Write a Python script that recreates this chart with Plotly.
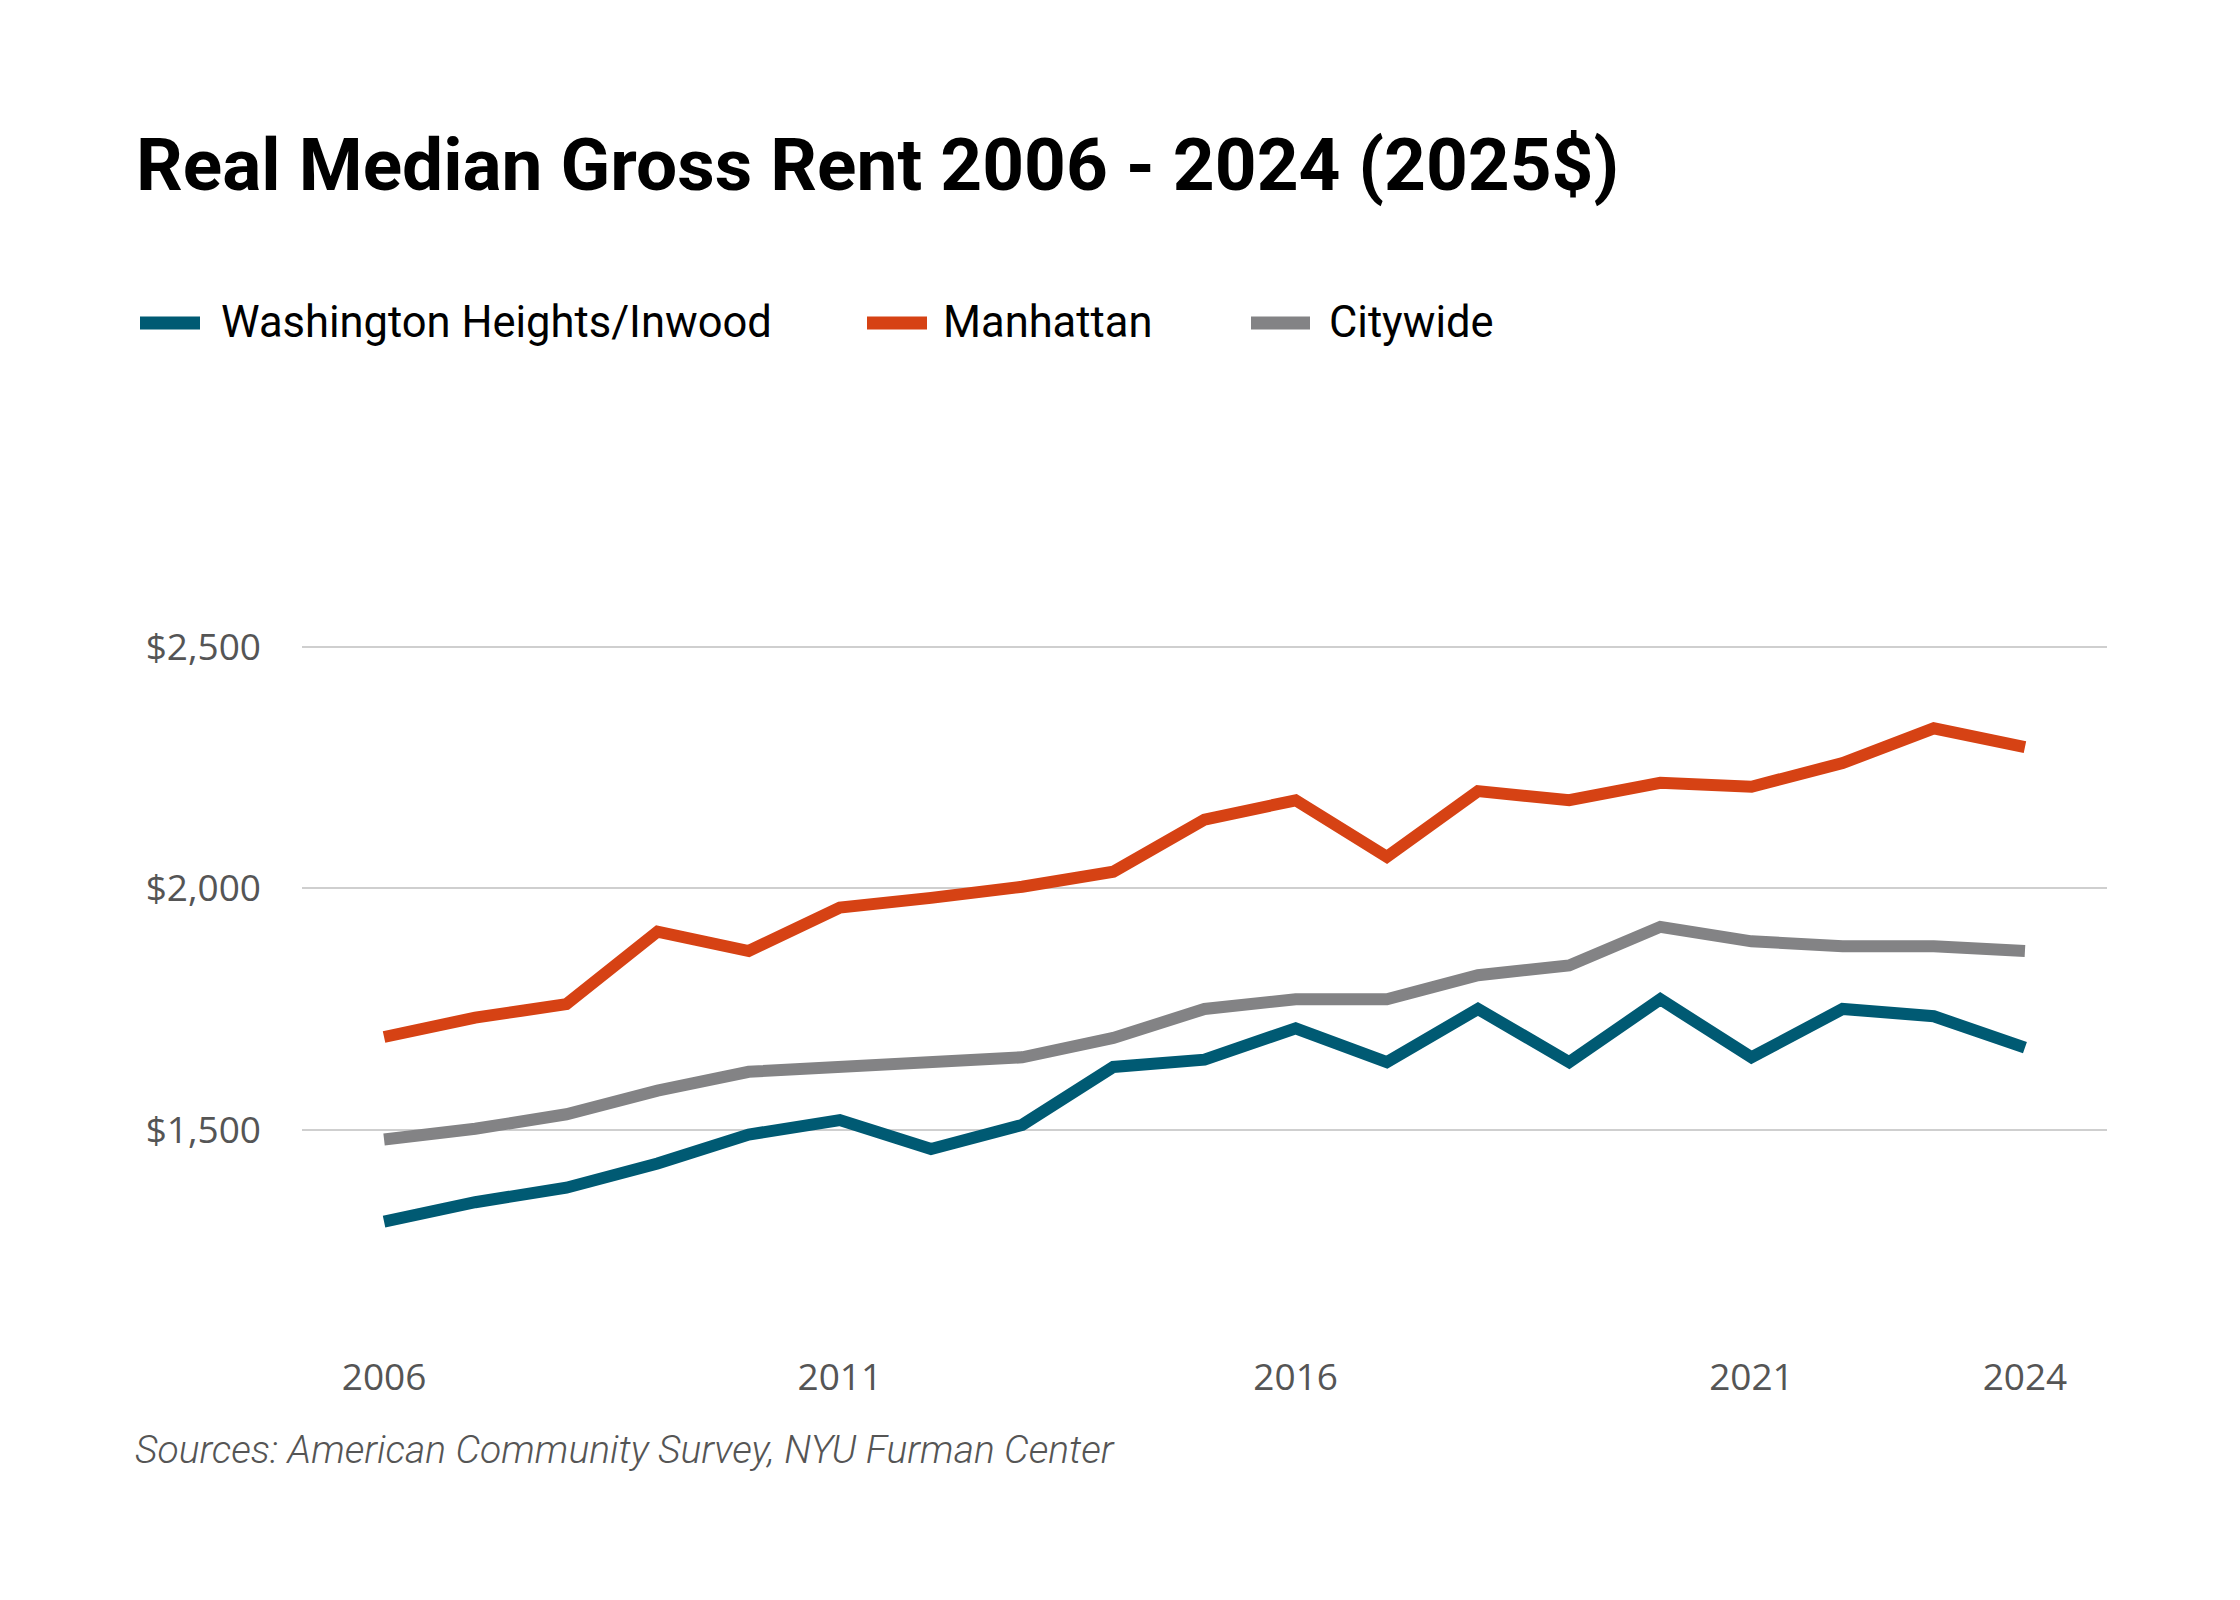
import plotly.graph_objects as go

# data (2025 dollars)
years = list(range(2006, 2025))
wash_heights = [1310, 1350, 1380, 1430, 1490, 1520, 1460, 1510, 1630, 1645,
                1710, 1640, 1750, 1640, 1770, 1650, 1750, 1735, 1670]
manhattan = [1692, 1732, 1760, 1910, 1870, 1960, 1980, 2003, 2034, 2142,
             2182, 2065, 2201, 2182, 2218, 2210, 2259, 2331, 2292]
citywide = [1480, 1502, 1532, 1581, 1620, 1630, 1640, 1650, 1690, 1750,
            1770, 1770, 1820, 1840, 1920, 1890, 1880, 1880, 1870]

series_names = ["Washington Heights/Inwood", "Manhattan", "Citywide"]
series_values = [wash_heights, manhattan, citywide]
series_colors = ["#005a73", "#d64214", "#838385"]

x_ticks = [2006, 2011, 2016, 2021, 2024]
y_ticks = [1500, 2000, 2500]
y_tick_labels = ["$1,500", "$2,000", "$2,500"]

title_text = "Real Median Gross Rent 2006 - 2024 (2025$)"
source_text = "Sources: American Community Survey, NYU Furman Center"

W, H = 2240, 1600
M_L, M_R, M_T, M_B = 302, 133, 550, 248
PLOT_W = W - M_L - M_R
PLOT_H = H - M_T - M_B


def px_x(px):
    return (px - M_L) / PLOT_W


def px_y(py):
    return (H - M_B - py) / PLOT_H


fig = go.Figure()
for name, vals, color in zip(series_names, series_values, series_colors):
    fig.add_trace(go.Scatter(
        x=years, y=vals, name=name, mode="lines",
        line=dict(color=color, width=12),
        showlegend=False,
    ))

# hand-made legend so the swatches and spacing match the original
legend_swatch_px = [(140, 200), (867, 927), (1251, 1310)]
legend_text_px = [219, 941, 1327]
legend_y = px_y(323)
for name, color, (x0, x1), tx in zip(series_names, series_colors,
                                     legend_swatch_px, legend_text_px):
    fig.add_shape(type="line", xref="paper", yref="paper",
                  x0=px_x(x0), x1=px_x(x1), y0=legend_y, y1=legend_y,
                  line=dict(color=color, width=13))
    fig.add_annotation(text=name, xref="paper", yref="paper",
                       x=px_x(tx), y=legend_y, xanchor="left", yanchor="middle",
                       showarrow=False,
                       font=dict(family="Roboto", size=43.5, color="#000000"))

fig.add_annotation(text=source_text, xref="paper", yref="paper",
                   x=px_x(133), y=px_y(1450), xanchor="left", yanchor="middle",
                   showarrow=False,
                   font=dict(family="Roboto", size=39, color="#555555",
                             style="italic", weight=300))

fig.update_layout(
    width=W, height=H,
    margin=dict(l=M_L, r=M_R, t=M_T, b=M_B),
    paper_bgcolor="white", plot_bgcolor="white",
    title=dict(text=title_text, x=136 / W, xanchor="left",
               y=1 - 164 / H, yanchor="middle", yref="container",
               font=dict(family="Roboto", size=73, color="#000000", weight=700)),
    showlegend=False,
)
fig.update_xaxes(
    range=[2005.1, 2024.9], tickvals=x_ticks, showgrid=False,
    zeroline=False, showline=False,
    tickfont=dict(family="Open Sans", size=37, color="#555555"),
)
fig.update_yaxes(
    range=[1040, 2700], tickvals=y_ticks, ticktext=y_tick_labels,
    showgrid=True, gridcolor="#cfcfcf", gridwidth=2,
    zeroline=False, showline=False, ticklabelstandoff=40,
    tickfont=dict(family="Open Sans", size=37, color="#555555"),
)

# drop the browser's default page margin so the figure sits at the corner
fig.write_html("out.html", config={"displayModeBar": False},
               post_script="document.body.style.margin='0';")
